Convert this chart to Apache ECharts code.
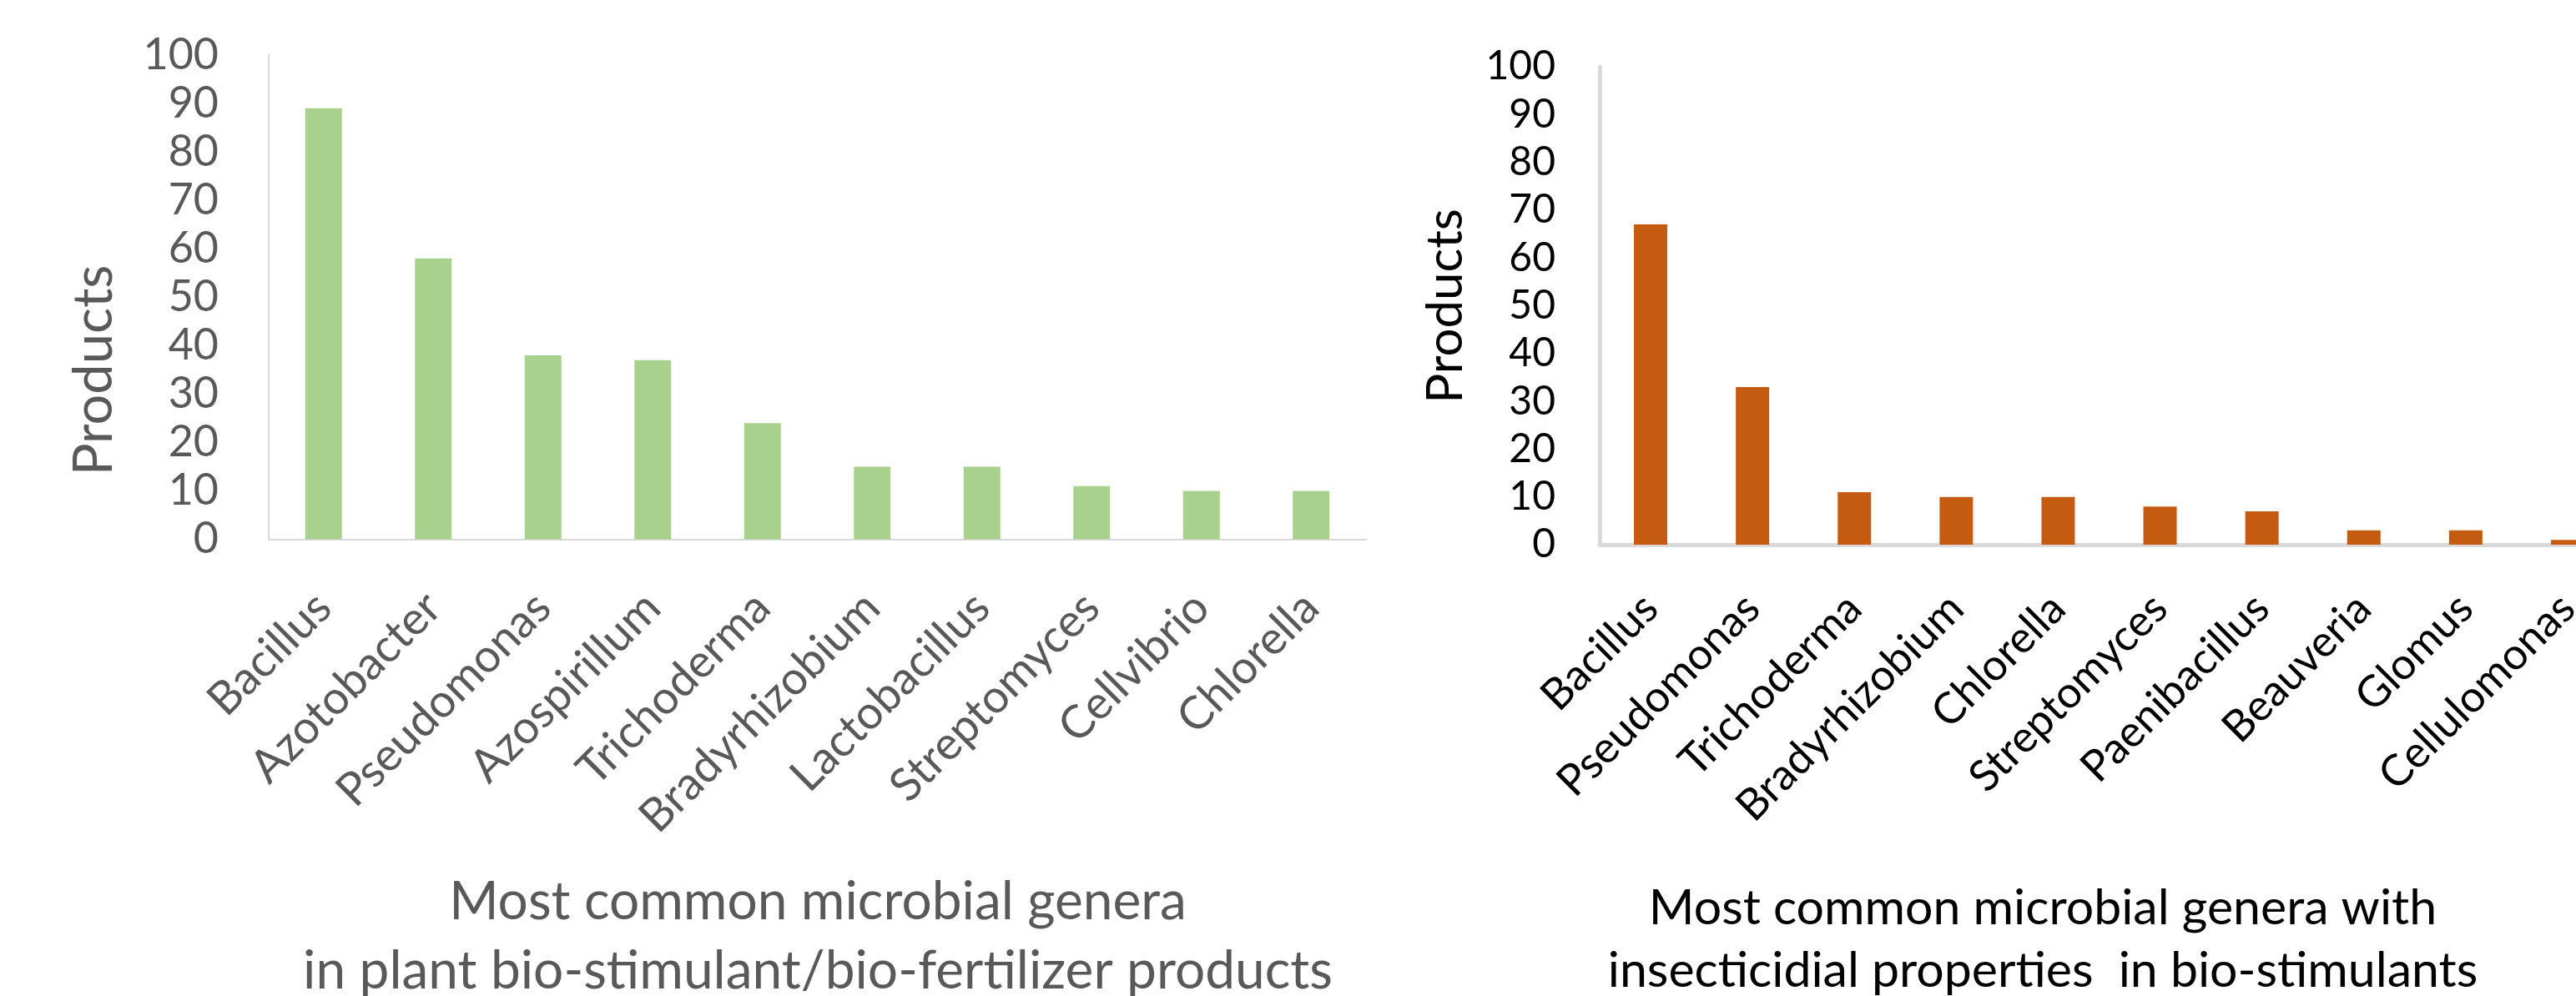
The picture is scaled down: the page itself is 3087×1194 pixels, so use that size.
<!DOCTYPE html>
<html>
<head>
<meta charset="utf-8">
<title>Microbial genera in bio-stimulant products</title>
<script src="https://cdn.jsdelivr.net/npm/echarts@6/dist/echarts.min.js"></script>
<style>
  html, body { margin: 0; padding: 0; background: #ffffff; }
  #chart { width: 3087px; height: 1194px; }
</style>
</head>
<body>
<div id="chart"></div>
<script>
// Genera found in plant bio-stimulant / bio-fertilizer products
const fertilizerGenera = ['Bacillus', 'Azotobacter', 'Pseudomonas', 'Azospirillum', 'Trichoderma',
  'Bradyrhizobium', 'Lactobacillus', 'Streptomyces', 'Cellvibrio', 'Chlorella'];
const fertilizerCounts = [89, 58, 38, 37, 24, 15, 15, 11, 10, 10];

// Genera with insecticidal properties in bio-stimulants
const insecticidalGenera = ['Bacillus', 'Pseudomonas', 'Trichoderma', 'Bradyrhizobium', 'Chlorella',
  'Streptomyces', 'Paenibacillus', 'Beauveria', 'Glomus', 'Cellulomonas'];
const insecticidalCounts = [67, 33, 11, 10, 10, 8, 7, 3, 3, 1];

// Shared value axis range
const axisMin = 0;
const axisMax = 100;
const axisStep = 10;

const FONT = 'Lato';
const GREY_TEXT = '#595959';
const AXIS_GREY = '#d9d9d9';

const chart = echarts.init(document.getElementById('chart'), null, { renderer: 'canvas' });

chart.setOption({
  backgroundColor: '#ffffff',
  animation: false,
  title: [
    {
      text: 'Most common microbial genera\nin plant bio-stimulant/bio-fertilizer products',
      left: 980, top: 1040, textAlign: 'center', padding: 0,
      textStyle: { fontFamily: FONT, fontWeight: 'normal', fontSize: 64, lineHeight: 83, color: GREY_TEXT }
    },
    {
      text: 'Most common microbial genera with\ninsecticidial properties  in bio-stimulants',
      left: 2448, top: 1051, textAlign: 'center', padding: 0,
      textStyle: { fontFamily: FONT, fontWeight: 'normal', fontSize: 59, lineHeight: 75, color: '#000000' }
    }
  ],
  graphic: [
    {
      type: 'text', x: 113, y: 444, rotation: Math.PI / 2,
      style: { text: 'Products', fontFamily: FONT, fontSize: 65, fill: GREY_TEXT, align: 'center', verticalAlign: 'middle' }
    },
    {
      type: 'text', x: 1733, y: 367, rotation: Math.PI / 2,
      style: { text: 'Products', fontFamily: FONT, fontSize: 60, fill: '#000000', align: 'center', verticalAlign: 'middle' }
    }
  ],
  grid: [
    { left: 322, top: 66, width: 1315, bottom: 547.5, containLabel: false, outerBoundsMode: 'none' },
    // the last category runs past the right edge of the canvas
    { left: 1917, top: 80, width: 1221, bottom: 541, containLabel: false, outerBoundsMode: 'none' }
  ],
  xAxis: [
    {
      type: 'category', gridIndex: 0, data: fertilizerGenera,
      axisLine: { show: true, lineStyle: { color: AXIS_GREY, width: 2 } },
      axisTick: { show: false },
      axisLabel: {
        interval: 0, rotate: 45, margin: 73,
        fontFamily: FONT, fontSize: 55, color: GREY_TEXT
      }
    },
    {
      type: 'category', gridIndex: 1, data: insecticidalGenera,
      axisLine: { show: true, lineStyle: { color: AXIS_GREY, width: 5 } },
      axisTick: { show: false },
      axisLabel: {
        interval: 0, rotate: 45, margin: 68,
        fontFamily: FONT, fontSize: 52, color: '#000000'
      }
    }
  ],
  yAxis: [
    {
      type: 'value', gridIndex: 0, min: axisMin, max: axisMax, interval: axisStep,
      axisLine: { show: true, lineStyle: { color: AXIS_GREY, width: 2 } },
      axisTick: { show: false },
      splitLine: { show: false },
      axisLabel: { margin: 60, fontFamily: FONT, fontSize: 52, color: GREY_TEXT }
    },
    {
      type: 'value', gridIndex: 1, min: axisMin, max: axisMax, interval: axisStep,
      axisLine: { show: true, lineStyle: { color: AXIS_GREY, width: 5 } },
      axisTick: { show: false },
      splitLine: { show: false },
      axisLabel: { margin: 53, fontFamily: FONT, fontSize: 48, color: '#000000' }
    }
  ],
  series: [
    {
      type: 'bar', xAxisIndex: 0, yAxisIndex: 0,
      data: fertilizerCounts, barWidth: 44,
      itemStyle: { color: '#a9d18e' }
    },
    {
      type: 'bar', xAxisIndex: 1, yAxisIndex: 1,
      data: insecticidalCounts, barWidth: 40,
      itemStyle: { color: '#c55a11' }
    }
  ]
});
</script>
</body>
</html>
